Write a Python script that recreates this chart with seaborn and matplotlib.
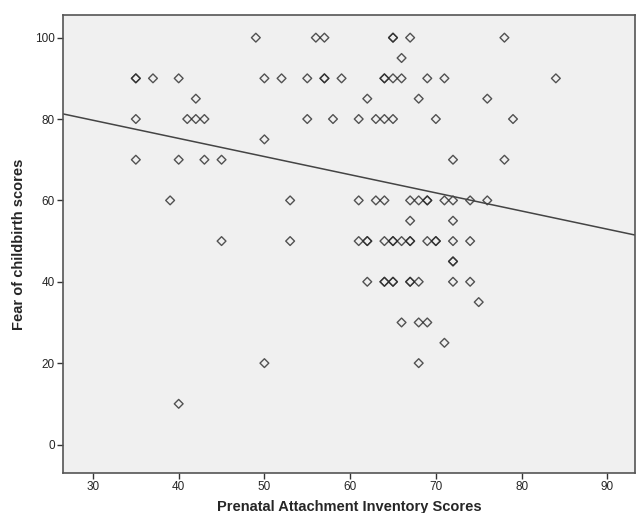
import matplotlib
matplotlib.use('Agg')
import matplotlib.pyplot as plt
import pandas as pd
import seaborn as sns

# Valores (escore PAI, escore de medo do parto)
pai = [49, 56, 57, 65, 65, 67, 78,
       66,
       35, 35, 37, 40, 50, 52, 55, 57, 57, 59, 64, 64, 65, 66, 69, 71, 84,
       42, 62, 68, 76,
       35, 41, 42, 43, 55, 58, 61, 63, 64, 65, 70, 79,
       50,
       35, 40, 43, 45, 72, 78,
       39, 53, 61, 63, 64, 67, 68, 69, 69, 71, 72, 74, 76,
       67, 72,
       45, 53, 61, 62, 62, 64, 65, 65, 66, 67, 67, 69, 70, 70, 72, 74,
       72, 72,
       62, 64, 64, 65, 65, 67, 67, 68, 72, 74,
       75,
       66, 68, 69,
       71,
       50, 68,
       40]
fear = [100] * 7 + [95] + [90] * 17 + [85] * 4 + [80] * 12 + [75] + [70] * 6 \
    + [60] * 13 + [55] * 2 + [50] * 16 + [45] * 2 + [40] * 10 + [35] + [30] * 3 \
    + [25] + [20] * 2 + [10]

df = pd.DataFrame({'pai': pai, 'fear': fear})

sns.set_style('ticks')
plt.rcParams['font.family'] = ['Liberation Sans', 'DejaVu Sans']

fig = plt.figure(figsize=(6.36, 5.13), dpi=100)
ax = fig.add_axes([0.099, 0.078, 0.899, 0.893])
ax.set_facecolor('#f0f0f0')

# Limites antes do regplot para a reta ir de borda a borda
ax.set_xlim(26.5, 93.2)
ax.set_ylim(-7, 105.6)

sns.regplot(data=df, x='pai', y='fear', ax=ax, ci=None, truncate=False,
            marker='D',
            scatter_kws={'s': 20, 'facecolors': 'none', 'edgecolors': '#2a2a2a',
                         'linewidths': 1.0},
            line_kws={'color': '#444444', 'linewidth': 1.1})

ax.set_xlim(26.5, 93.2)
ax.set_ylim(-7, 105.6)
ax.set_xticks([30, 40, 50, 60, 70, 80, 90])
ax.set_yticks([0, 20, 40, 60, 80, 100])
ax.tick_params(labelsize=8.5, length=4, width=1, color='#333333', pad=2)

for s in ax.spines.values():
    s.set_color('#555555')
    s.set_linewidth(1.2)

ax.set_xlabel('Prenatal Attachment Inventory Scores', fontsize=10.5,
              fontweight='bold', labelpad=5)
ax.set_ylabel('Fear of childbirth scores', fontsize=10.5, fontweight='bold',
              labelpad=6)

fig.savefig('out.png', dpi=100)
